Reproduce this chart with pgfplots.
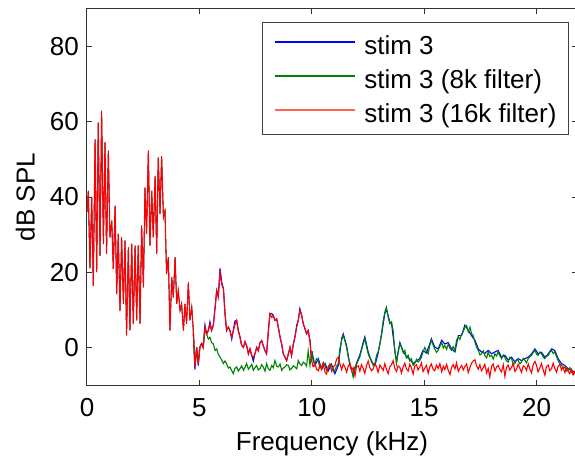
\documentclass[border=0pt]{standalone}
\usepackage{fontspec}
\setmainfont{Liberation Sans}
\usepackage{pgfplots}
\usepackage{pgfplotstable}
\pgfplotsset{compat=1.18}

\pgfplotstableread{
x y
0.00 36
0.06 41.6
0.13 21
0.21 40
0.28 16.4
0.36 55.3
0.43 20
0.50 59.8
0.58 24.4
0.65 62.9
0.73 27.5
0.80 54.5
0.87 24.9
0.95 52.3
1.02 29.3
1.10 33.7
1.17 20.9
1.25 37.7
1.32 14.2
1.39 30.2
1.47 9.8
1.54 29.3
1.62 11.6
1.69 28.4
1.76 3.2
1.84 26.6
1.91 4.5
1.99 27.5
2.06 6.3
2.14 27.1
2.21 7.2
2.28 27.1
2.36 6.3
2.43 32.4
2.51 16
2.58 42.5
2.65 30.2
2.73 52.3
2.80 27.1
2.88 41.6
2.95 29.3
3.03 45.6
3.10 24.9
3.17 50.5
3.25 35.5
3.32 50.9
3.40 34.6
3.47 36.3
3.54 19.5
3.62 24
3.69 4.5
3.77 18.6
3.84 13.3
3.92 24
3.99 11.6
4.06 15.1
4.14 9.8
4.21 11.6
4.29 4.5
4.36 11.6
4.43 6.3
4.51 17.3
4.58 7.2
4.66 10.7
4.73 4.5
}\lowtab

\pgfplotstableread{
x y
4.73 4.5
4.80 -5.2
4.88 0
4.95 -4.3
5.02 0
5.10 1
5.17 0
5.25 5.4
5.32 3.6
5.40 4.5
5.47 6.3
5.54 4.5
5.62 5.9
5.70 10.7
5.77 15.1
5.84 13.3
5.92 20
5.99 16.9
6.07 15.6
6.14 9
6.21 4.5
6.29 5.4
6.36 4.5
6.44 2.7
6.51 4.5
6.58 6
6.66 7.2
6.73 4.5
6.81 2.7
6.88 0.5
6.96 0
7.03 1.5
7.10 0.5
7.18 -1.7
7.25 -0.4
7.33 -2.2
7.40 -2.6
7.47 -1.7
7.55 0
7.62 -0.9
7.70 1.3
7.77 1.8
7.84 0.5
7.92 -0.9
7.99 -1.7
8.07 4.5
8.14 9
8.22 8
8.29 8.5
8.36 7.2
8.44 7.6
8.51 5.4
8.59 2.7
8.66 0.9
8.73 -1.7
8.81 -2.6
8.88 -3.5
8.96 -1.7
9.03 0
9.10 -2.2
9.18 0.9
9.25 2.7
9.33 5.4
9.40 7.2
9.47 9.8
9.55 8.5
9.62 6.3
9.70 4.9
9.77 3.6
9.84 4.5
9.92 1.8
9.99 -3.5
10.06 -5.2
}\redmid

\pgfplotstableread{
x y
4.73 4.5
4.80 -5.9
4.88 0
4.95 -4.8
5.02 0
5.10 1
5.17 0
5.25 5.9
5.32 3.6
5.40 4.5
5.47 6.8
5.54 4.5
5.62 5.9
5.70 10.7
5.77 15.1
5.84 13.8
5.92 21
5.99 17.5
6.07 15.6
6.14 9
6.21 4.5
6.29 5.4
6.36 4.5
6.44 2.2
6.51 4.5
6.58 7
6.66 7.2
6.73 4.5
6.81 2.7
6.88 0.5
6.96 0
7.03 1.5
7.10 0.5
7.18 -1.7
7.25 -0.4
7.33 -2.2
7.40 -3.6
7.47 -1.7
7.55 0
7.62 -0.9
7.70 1.3
7.77 1.8
7.84 0.5
7.92 -0.9
7.99 -1.7
8.07 4.5
8.14 9
8.22 9
8.29 8.5
8.36 7.2
8.44 7.6
8.51 5.4
8.59 2.7
8.66 0.9
8.73 -1.7
8.81 -2.6
8.88 -3.5
8.96 -1.7
9.03 0
9.10 -2.2
9.18 0.9
9.25 2.7
9.33 5.9
9.40 7.2
9.47 10.3
9.55 8.5
9.62 6.3
9.70 4.9
9.77 3.6
9.84 4.5
9.92 1.8
9.99 -3.5
10.00 -1
}\bluemid

\pgfplotstableread{
x y
4.73 4.5
4.80 -5.2
4.88 0
4.95 -4.3
5.02 0
5.10 1
5.17 0
5.25 5.4
5.32 3.6
5.40 2.2
5.47 2.7
5.54 1.3
5.62 0.9
5.70 -0.8
5.77 -0.4
5.84 -1.8
5.92 -2.6
5.99 -3.3
6.07 -4.3
6.14 -3.6
6.21 -4.3
6.29 -5.5
6.36 -5.2
6.44 -6.2
6.51 -7
6.58 -5.6
6.66 -5.2
6.73 -6.3
6.81 -5.6
6.88 -4.9
6.96 -6.1
7.03 -5.3
7.10 -4.3
7.18 -5.8
7.25 -5.2
7.33 -4.5
7.40 -6.1
7.47 -5.4
7.55 -4.8
7.62 -6
7.70 -5.6
7.77 -4.6
7.84 -5.2
7.92 -6.3
7.99 -4.3
8.07 -5.7
8.14 -6.1
8.22 -4.8
8.29 -5.4
8.36 -3.5
8.44 -5
8.51 -5.2
8.59 -4.4
8.66 -6.1
8.73 -5.5
8.81 -5.2
8.88 -4.6
8.96 -4.8
9.03 -6
9.10 -5.6
9.18 -4.9
9.25 -5.2
9.33 -5.7
9.40 -3.5
9.47 -4.4
9.55 -4.8
9.62 -3.9
9.70 -4.3
9.77 -5.0
9.84 -0.9
9.92 -4.8
10.00 -1
}\greenmid

\pgfplotstableread{
x y
10.00 -1
10.14 -4.8
10.29 -3
10.44 -5.8
10.59 -4.3
10.73 -6.3
10.88 -4.5
11.03 -7
11.18 -4.8
11.33 2.4
11.40 3.6
11.55 0.4
11.70 -4.8
11.84 -7.4
11.99 -4.2
12.14 -2
12.29 1.4
12.36 2.8
12.51 -1.2
12.66 -3.9
12.81 -4.8
12.95 -1.6
13.10 3.2
13.25 9
13.32 10.2
13.47 6.8
13.55 6.3
13.69 -0.4
13.77 -3.8
13.92 1.3
14.07 -1.1
14.21 -2.4
14.36 -3.2
14.51 -4.3
14.66 -3.6
14.80 -3
14.95 -0.8
15.10 -1.5
15.25 0.9
15.32 2.3
15.47 0.1
15.62 -0.4
15.78 1.9
15.92 0.9
16.07 1.3
16.22 -0.4
16.37 -1.2
16.52 3.1
16.67 3.2
16.81 5.9
16.96 4.6
17.11 3.1
17.26 1.9
17.41 -0.4
17.55 -1.2
17.70 -1.6
17.85 -0.8
18.00 -1.7
18.15 -1.2
18.29 -0.8
18.44 -2.6
18.59 -2.1
18.74 -3.4
18.89 -2.6
19.04 -3.9
19.18 -3
19.33 -3.5
19.48 -3
19.63 -2.6
19.78 -1.7
19.93 -0.4
20.07 -1.7
20.22 -1.3
20.37 -2.6
20.52 -1.7
20.67 -0.4
20.81 -0.8
20.96 -3
21.11 -4.3
21.26 -4.8
21.41 -5.7
21.55 -6.1
21.70 -6.6
21.80 -6.2
}\bluehigh

\pgfplotstableread{
x y
10.00 -1
10.07 -4
10.14 -4.3
10.21 -3
10.29 -3.4
10.36 -5.5
10.44 -5.2
10.51 -4
10.59 -4.8
10.66 -6.2
10.73 -5.7
10.81 -4.4
10.88 -4.8
10.96 -6.5
11.03 -6.1
11.10 -5
11.18 -4.3
11.25 -0.4
11.33 1.9
11.40 3.2
11.47 1.9
11.55 0
11.62 -2.6
11.70 -4.5
11.77 -5.7
11.84 -7.9
11.92 -5.2
11.99 -4.6
12.07 -3.4
12.14 -2.5
12.21 -0.8
12.29 1
12.36 2.3
12.44 0
12.51 -1.7
12.58 -2.8
12.66 -3.4
12.73 -4.8
12.81 -4.3
12.88 -2.1
12.95 -1.2
13.03 0.9
13.10 3.6
13.18 7.2
13.25 9.4
13.32 10.7
13.40 8.1
13.47 6.3
13.55 6.8
13.62 4.5
13.69 -0.8
13.77 -4.3
13.84 -1.2
13.92 0.9
13.99 0
14.07 -1.5
14.14 -0.8
14.21 -2.8
14.29 -2.1
14.36 -3.6
14.43 -3
14.51 -4.8
14.58 -4.3
14.66 -3.2
14.73 -3.9
14.80 -3.5
14.88 -2.6
14.95 -1.2
15.03 0
15.10 -1
15.18 -1.7
15.25 0.5
15.32 1.9
15.40 0.6
15.47 -0.4
15.55 -1.3
15.62 -0.8
15.70 0.3
15.78 1.4
15.85 -0.2
15.92 0.5
16.00 -0.5
16.07 0.9
16.15 -0.3
16.22 -0.8
16.29 0.2
16.37 -0.8
16.44 1.9
16.52 2.7
16.59 2.1
16.67 3.6
16.74 4.2
16.81 5.4
16.89 5.8
16.96 4.1
17.04 5.4
17.11 3.6
17.18 3.2
17.26 1.4
17.33 0.1
17.41 -0.8
17.48 -2
17.55 -1.7
17.63 -0.9
17.70 -2.1
17.78 -2.8
17.85 -1.2
17.92 -2.4
18.00 -2.1
18.07 -3.1
18.15 -1.7
18.22 -2.3
18.29 -1.2
18.37 -2.2
18.44 -3
18.52 -2
18.59 -2.6
18.66 -3.6
18.74 -3.9
18.81 -2.6
18.89 -3
18.96 -4.5
19.04 -4.3
19.11 -3.2
19.18 -3.4
19.26 -4.4
19.33 -3.9
19.41 -2.9
19.48 -3.4
19.55 -4.1
19.63 -3
19.70 -2.5
19.78 -2.1
19.85 -1.4
19.93 -0.8
20.00 -1.8
20.07 -2.1
20.15 -1.2
20.22 -1.7
20.29 -2.5
20.37 -3
20.44 -2.4
20.52 -2.1
20.59 -1.3
20.67 -0.8
20.74 -1.6
20.81 -1.2
20.89 -2.5
20.96 -3.4
21.04 -4.5
21.11 -4.7
21.18 -5.6
21.26 -5.2
21.33 -6.3
21.41 -6.1
21.48 -5.4
21.55 -6.5
21.63 -7.2
21.70 -7
21.80 -6.6
}\greenhigh

\pgfplotstableread{
x y
10.06 -5.2
10.14 -4.1
10.21 -5.8
10.29 -6.2
10.36 -4.7
10.44 -5.9
10.51 -4.3
10.59 -6.6
10.66 -7.1
10.73 -5.0
10.81 -4.6
10.88 -6.3
10.96 -5.1
11.03 -4.8
11.10 -3.2
11.18 -2.6
11.25 -4.3
11.33 -5.9
11.40 -4.4
11.47 -5.2
11.55 -6.6
11.62 -5.0
11.70 -4.2
11.77 -6.1
11.84 -5.4
11.92 -7.6
11.99 -5.1
12.07 -4.9
12.14 -6.3
12.21 -4.6
12.29 -5.6
12.36 -6.9
12.44 -4.8
12.51 -3.6
12.58 -5.3
12.66 -6.2
12.73 -5.7
12.81 -4.4
12.88 -5.1
12.95 -6.6
13.03 -4.7
13.10 -5.4
13.18 -6.1
13.25 -4.3
13.32 -5.8
13.40 -7.0
13.47 -5.2
13.55 -4.6
13.62 -3.5
13.69 -5.5
13.77 -6.4
13.84 -4.9
13.92 -5.3
13.99 -6.8
14.07 -5.1
14.14 -4.2
14.21 -5.7
14.29 -6.3
14.36 -4.5
14.43 -5.4
14.51 -7.1
14.58 -5.0
14.66 -4.6
14.73 -6.0
14.80 -5.3
14.88 -4.1
14.95 -6.4
15.03 -5.5
15.10 -4.8
15.18 -6.9
15.25 -5.2
15.32 -4.4
15.40 -5.8
15.47 -6.2
15.55 -4.7
15.62 -5.6
15.70 -4.3
15.78 -6.5
15.85 -5.0
15.92 -5.9
16.00 -4.5
16.07 -6.1
16.15 -7.2
16.22 -5.3
16.29 -4.6
16.37 -5.7
16.44 -4.1
16.52 -6.4
16.59 -5.5
16.67 -4.8
16.74 -6.0
16.81 -5.1
16.89 -4.4
16.96 -6.7
17.04 -5.3
17.11 -4.2
17.18 -3.6
17.26 -3.3
17.33 -4.9
17.41 -5.8
17.48 -4.6
17.55 -6.2
17.63 -5.4
17.70 -4.5
17.78 -6.8
17.85 -5.6
17.92 -7.9
18.00 -5.0
18.07 -4.4
18.15 -6.3
18.22 -5.2
18.29 -4.8
18.37 -5.9
18.44 -6.5
18.52 -4.6
18.59 -7.7
18.66 -5.4
18.74 -4.7
18.81 -6.0
18.89 -5.3
18.96 -4.3
19.04 -6.4
19.11 -5.8
19.18 -4.5
19.26 -5.6
19.33 -6.6
19.41 -4.9
19.48 -5.2
19.55 -6.1
19.63 -4.4
19.70 -5.7
19.78 -6.8
19.85 -4.6
19.93 -3.7
20.00 -4.8
20.07 -6.5
20.15 -5.4
20.22 -4.3
20.29 -5.9
20.37 -7.4
20.44 -5.1
20.52 -4.7
20.59 -6.2
20.67 -5.6
20.74 -4.2
20.81 -5.5
20.89 -6.6
20.96 -5.0
21.04 -4.6
21.11 -6.0
21.18 -5.2
21.26 -6.7
21.33 -5.4
21.41 -6.3
21.48 -7.0
21.55 -5.8
21.63 -7.3
21.70 -6.4
21.80 -7.2
}\redhigh

\definecolor{mblue}{rgb}{0,0,1}
\definecolor{mgreen}{rgb}{0,0.5,0}
\definecolor{mred}{rgb}{1,0,0}
\definecolor{lgred}{rgb}{1,0.4,0.3}

\begin{document}
\begin{tikzpicture}
\begin{axis}[
  scale only axis,
  width=490pt, height=376pt,
  xmin=0, xmax=21.8, ymin=-10, ymax=90,
  xtick={0,5,10,15,20},
  ytick={0,20,40,60,80},
  tick align=inside,
  major tick length=5pt,
  axis line style={line width=1pt, black!80},
  every tick/.style={black!80, line width=1pt},
  font=\fontsize{26}{31}\selectfont,
  /pgf/number format/assume math mode=true,
  xticklabel style={inner sep=0pt, yshift=-13pt},
  yticklabel style={inner sep=0pt, xshift=-8pt},
  xlabel={Frequency (kHz)},
  ylabel={dB SPL},
  xlabel style={at={([yshift=-46pt]rel axis cs:0.5,0)}, anchor=north, inner sep=0pt},
  ylabel style={at={([xshift=-52pt]rel axis cs:0,0.5)}, anchor=south, inner sep=0pt},
  no markers,
  every axis plot/.append style={line width=1.1pt},
  legend cell align=left,
  legend image code/.code={\draw[#1, line width=1.3pt] (0pt,2.7pt) -- (80pt,2.7pt);},
  legend style={at={([xshift=-8pt,yshift=-13pt]rel axis cs:1,1)}, anchor=north east,
    draw=black!75, line width=1pt, inner xsep=12pt, inner ysep=6pt,
    row sep=1.3pt, column sep=9pt,
    nodes={inner sep=0pt, text height=26.3pt, text depth=6.3pt},
    font=\fontsize{26}{31}\selectfont},
]
\coordinate (ll) at (rel axis cs:0,0);
\coordinate (ur) at (rel axis cs:1,1);
\addplot[mblue, forget plot, line width=0.6pt] table {\lowtab};
\addplot[mblue, forget plot] table {\bluemid};
\addplot[mblue, forget plot] table {\bluehigh};
\addplot[mgreen, forget plot, line width=0.6pt] table {\lowtab};
\addplot[mgreen, forget plot] table {\greenmid};
\addplot[mgreen, forget plot] table {\greenhigh};
\addplot[mred, forget plot] table {\lowtab};
\addplot[mred, forget plot] table {\redmid};
\addplot[mred, forget plot] table {\redhigh};
\addlegendimage{color=mblue}
\addlegendentry{stim 3}
\addlegendimage{color=mgreen}
\addlegendentry{stim 3 (8k filter)}
\addlegendimage{color=lgred}
\addlegendentry{stim 3 (16k filter)}
\end{axis}
\pgfresetboundingbox
\path ([xshift=-87pt,yshift=-72pt]ll) rectangle ([xshift=-2pt,yshift=9pt]ur);
\end{tikzpicture}
\end{document}
